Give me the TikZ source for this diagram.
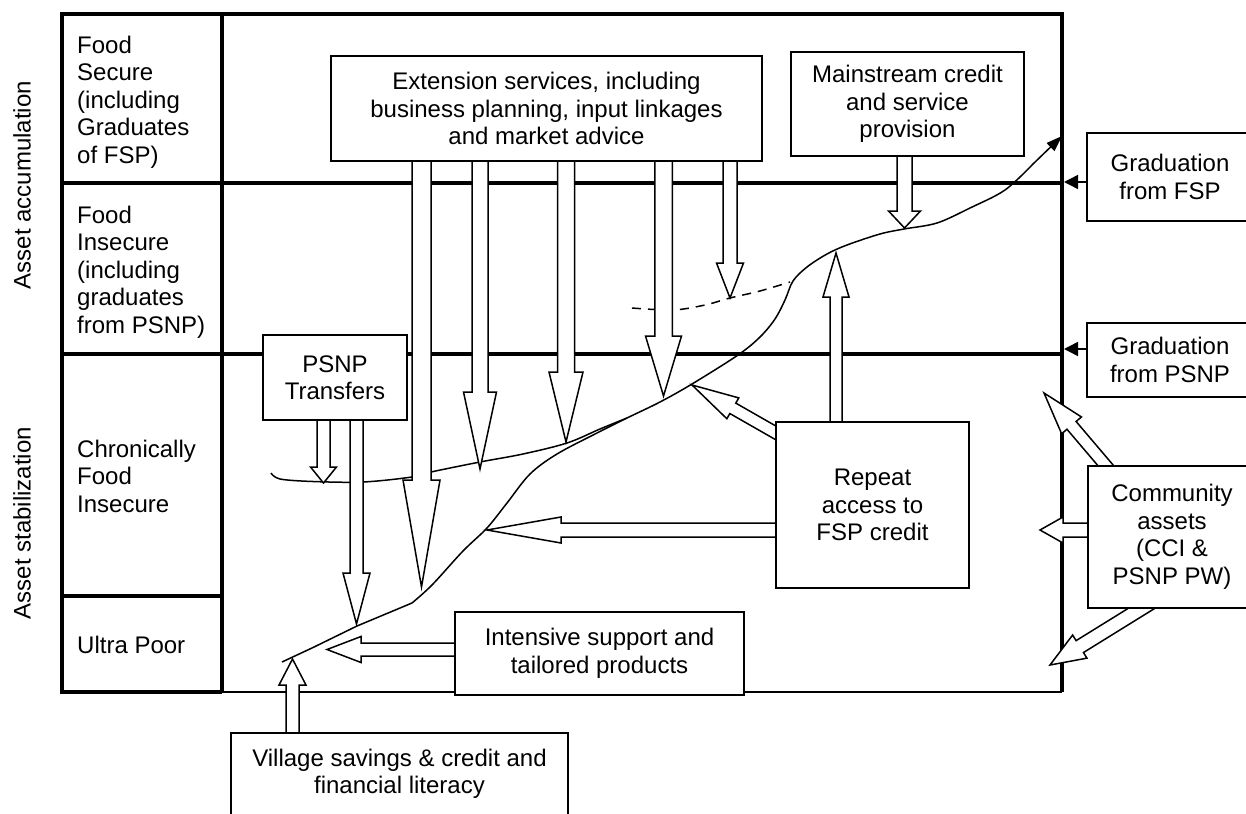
\documentclass[tikz,border=0pt]{standalone}
\usepackage{fontspec}
\setmainfont{Liberation Sans}
\usetikzlibrary{calc,arrows.meta}
\pgfdeclarelayer{grid}
\pgfdeclarelayer{flows}
\pgfsetlayers{grid,flows,main}

% Hollow block arrow: #1 tail, #2 tip, #3 shaft half-width, #4 head half-width, #5 head length (pt)
\newcommand\blockarrow[5]{%
  \coordinate (bahead) at ($(#2)!#5pt!(#1)$);
  \path[blockarrow]
    ($(#1)!#3pt!90:(#2)$) -- ($(bahead)!#3pt!90:(#2)$) -- ($(bahead)!#4pt!90:(#2)$)
    -- (#2) -- ($(bahead)!#4pt!-90:(#2)$) -- ($(bahead)!#3pt!-90:(#2)$)
    -- ($(#1)!#3pt!-90:(#2)$) -- cycle;
}

\tikzset{
  txt/.style={font=\fontsize{24pt}{27.5pt}\selectfont, inner sep=0pt},
  box/.style={txt, draw, line width=1.6pt, fill=white, align=center},
  frameline/.style={line width=4pt, line join=miter},
  thinframe/.style={line width=2pt},
  blockarrow/.style={draw, line width=1.5pt, fill=white, line join=miter},
  curveline/.style={line width=1.5pt},
  gradarrow/.style={line width=1.5pt, -{Triangle[length=14pt,width=14pt]}},
}

\begin{document}
\begin{tikzpicture}[x=1pt,y=1pt]
\useasboundingbox (0,0) rectangle (1246,-813);
\clip (0,0) rectangle (1246,-813);

% ---------- boxes ----------
\node[box, minimum width=431pt, minimum height=105pt] (ext) at (546.5,-108.5)
  {Extension services, including\\business planning, input linkages\\and market advice};
\node[box, minimum width=233pt, minimum height=104pt] (mainstream) at (907.5,-104)
  {Mainstream credit\\and service\\provision};
\node[box, minimum width=144pt, minimum height=85pt] (psnp) at (335,-377.5)
  {PSNP\\Transfers};
\node[box, minimum width=193pt, minimum height=166pt] (repeat) at (872.5,-505)
  {Repeat\\access to\\FSP credit};
\node[box, minimum width=289pt, minimum height=83pt] (intensive) at (599.5,-653.5)
  {Intensive support and\\tailored products};
\node[box, anchor=north, minimum width=337pt, inner ysep=16pt] (village) at (399.5,-732)
  {Village savings \& credit and\\financial literacy\\\mbox{}};
\node[box, minimum width=166pt, minimum height=88pt] (gradfsp) at (1170,-177)
  {Graduation\\from FSP};
\node[box, minimum width=166pt, minimum height=74pt] (gradpsnp) at (1170,-360)
  {Graduation\\from PSNP};
\node[box, minimum width=168pt, minimum height=142pt] (community) at (1172,-537)
  {Community\\assets\\(CCI \&\\PSNP PW)};

% ---------- row labels ----------
\node[txt, anchor=north west, align=left] (fsecure) at (77,-35.6)
  {Food\\Secure\\(including\\Graduates\\of FSP)};
\node[txt, anchor=north west, align=left] (finsecure) at (77,-205.6)
  {Food\\Insecure\\(including\\graduates\\from PSNP)};
\node[txt, anchor=north west, align=left] (chronic) at (77,-439.6)
  {Chronically\\Food\\Insecure};
\node[txt, anchor=north west, align=left] (ultra) at (77,-635.6)
  {Ultra Poor};
\node[txt, rotate=90] (accum) at (22,-185) {Asset accumulation};
\node[txt, rotate=90] (stab) at (22,-523) {Asset stabilization};

% ---------- grid and trajectories ----------
\begin{pgfonlayer}{grid}
  \coordinate (tl) at (62,-14);
  \coordinate (tr) at (1062,-14);
  \coordinate (bl) at (62,-692);
  \coordinate (br) at (1062,-692);
  \coordinate (colt) at (222,-14);
  \coordinate (colb) at (222,-692);
  \draw[frameline] (colb) -- (bl) -- (tl) -- (tr) -- (br);
  \draw[frameline] (colt) -- (colb);
  \draw[frameline] (62,-183) -- (1062,-183);
  \draw[frameline] (62,-354) -- (1062,-354);
  \draw[frameline] (62,-596) -- (224,-596);
  \draw[thinframe] (colb) -- (br);

  % graduation markers on the frame
  \coordinate (fspin) at (1064,-182);
  \coordinate (psnpin) at (1064,-349);
  \draw[gradarrow] (gradfsp.west |- fspin) -- (fspin);
  \draw[gradarrow] (gradpsnp.west |- psnpin) -- (psnpin);

  % main livelihood trajectory
  \coordinate (trajstart) at (282,-662);
  \coordinate (trajend) at (1062,-136);
  \draw[curveline, -{Triangle[length=16pt,width=11pt]}] (trajstart) -- (312,-648) -- (357,-626) -- (412,-603)
    -- plot[smooth, tension=0.55] coordinates {(412,-603) (432,-585) (463,-551) (487,-528) (507,-503)
      (530,-474) (557,-454) (597,-433) (627,-418) (660,-402) (692,-384) (738,-355) (760,-337)
      (775,-319) (785,-300) (793,-281) (807,-267) (827,-254) (847,-245) (880,-234) (904,-229)
      (937,-223) (970,-208) (1005,-190) (1033,-164)} -- (trajend);

  % lower trajectory of the chronically food insecure
  \draw[curveline] plot[smooth, tension=0.55] coordinates {(271,-473) (280,-479) (313,-481.5)
    (363,-482) (412,-477) (431,-472) (480,-462) (523,-454) (567,-443) (600,-429) (627,-418)};

  % dashed trajectory of the food insecure
  \draw[curveline, dash pattern=on 9pt off 7pt] plot[smooth, tension=0.55] coordinates {(632,-308)
    (673,-310) (705,-305) (730,-298) (760,-291) (790,-282)};
\end{pgfonlayer}

% ---------- support flows ----------
\begin{pgfonlayer}{flows}
  \coordinate (e1) at (421.5,-587);
  \coordinate (e2) at (480,-469);
  \coordinate (e3) at (566,-442);
  \coordinate (e4) at (663.5,-396);
  \coordinate (e5) at (730,-298);
  \coordinate (e1t) at (ext.center -| e1);
  \coordinate (e2t) at (ext.center -| e2);
  \coordinate (e3t) at (ext.center -| e3);
  \coordinate (e4t) at (ext.center -| e4);
  \coordinate (e5t) at (ext.center -| e5);
  \blockarrow{e1t}{e1}{9.5}{18.5}{107}
  \blockarrow{e2t}{e2}{8}{16.5}{77}
  \blockarrow{e3t}{e3}{8.5}{17}{70}
  \blockarrow{e4t}{e4}{8.75}{18}{60}
  \blockarrow{e5t}{e5}{7}{13.5}{35}

  \coordinate (m1) at (904.5,-228);
  \coordinate (m1t) at (mainstream.center -| m1);
  \blockarrow{m1t}{m1}{7.5}{16}{17}

  \coordinate (r1) at (836,-253);
  \coordinate (r1t) at (repeat.center -| r1);
  \blockarrow{r1t}{r1}{6}{13}{44}
  \coordinate (r2) at (692,-385);
  \coordinate (r2t) at (818,-457);
  \blockarrow{r2t}{r2}{6}{12}{47}
  \coordinate (r3) at (487,-530);
  \coordinate (r3t) at (repeat.center |- r3);
  \blockarrow{r3t}{r3}{7}{13}{74}

  \coordinate (p1) at (323.5,-483);
  \coordinate (p1t) at (psnp.center -| p1);
  \blockarrow{p1t}{p1}{6.5}{13}{16}
  \coordinate (p2) at (356.5,-624);
  \coordinate (p2t) at (psnp.center -| p2);
  \blockarrow{p2t}{p2}{6.5}{13.5}{51}

  \coordinate (i1) at (327,-649.5);
  \coordinate (i1t) at (intensive.center |- i1);
  \blockarrow{i1t}{i1}{6.5}{13}{34}

  \coordinate (v1) at (292.5,-659);
  \coordinate (v1t) at (village.center -| v1);
  \blockarrow{v1t}{v1}{6.5}{13.5}{26}

  \coordinate (c1) at (1040,-530);
  \coordinate (c1t) at (community.center |- c1);
  \blockarrow{c1t}{c1}{7}{13}{23}
  \coordinate (c2) at (1044,-393);
  \coordinate (c2t) at (1132,-496.5);
  \blockarrow{c2t}{c2}{6}{13}{42.5}
  \coordinate (c3) at (1050,-665);
  \coordinate (c3t) at (1176,-587);
  \blockarrow{c3t}{c3}{7}{13.6}{35}
\end{pgfonlayer}
\end{tikzpicture}
\end{document}
